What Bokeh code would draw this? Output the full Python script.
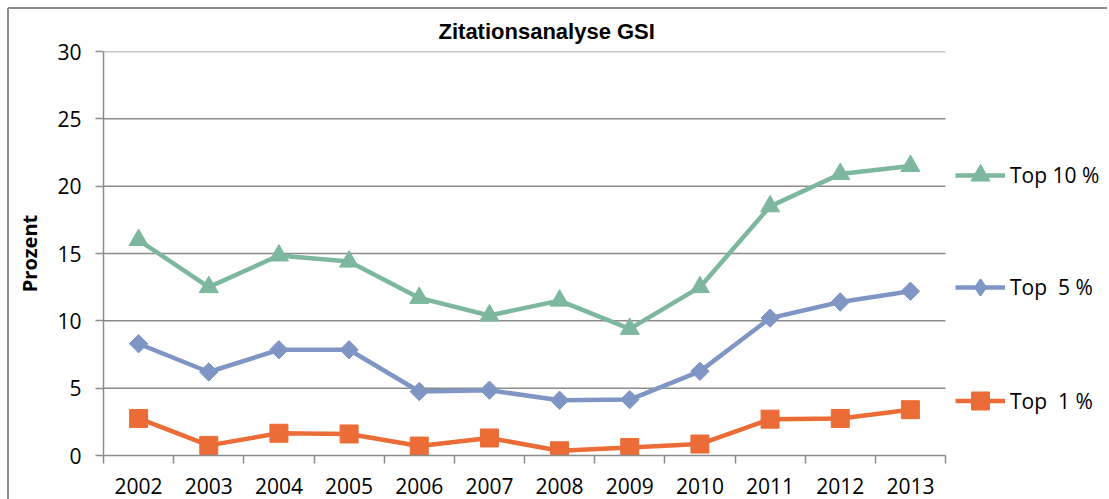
import numpy as np
from bokeh.plotting import figure
from bokeh.layouts import column
from bokeh.models import Range1d, FixedTicker, Legend, LegendItem
from bokeh.embed import file_html
from bokeh.resources import INLINE

years = ["2002", "2003", "2004", "2005", "2006", "2007", "2008", "2009", "2010", "2011", "2012", "2013"]
top10 = [16.0, 12.5, 14.85, 14.4, 11.7, 10.4, 11.5, 9.4, 12.5, 18.5, 20.9, 21.5]
top5 = [8.3, 6.2, 7.85, 7.85, 4.75, 4.85, 4.1, 4.15, 6.25, 10.2, 11.4, 12.2]
top1 = [2.75, 0.75, 1.65, 1.6, 0.7, 1.3, 0.35, 0.6, 0.85, 2.7, 2.75, 3.4]
names = ["Top 10 %", "Top  5 %", "Top  1 %"]
y_ticks = [0, 5, 10, 15, 20, 25, 30]

GREEN = "#7db89e"
BLUE = "#7f96c4"
ORANGE = "#eb6c36"
GRID = "#8c8c8c"
FONT = "Open Sans"

n = len(years)
xs = list(range(n))
PLOT_W = 842      # width of the category area
FRAME_W = 1002    # frame extends to the right to host the legend
x_end = -0.5 + n * FRAME_W / PLOT_W

p = figure(
    frame_width=FRAME_W, frame_height=404,
    min_border_left=103, min_border_right=2, min_border_top=51, min_border_bottom=44,
    x_range=Range1d(-0.5, x_end), y_range=Range1d(0, 30),
    output_backend="svg", toolbar_location=None,
    title="Zitationsanalyse GSI",
)
p.styles = {
    "background-color": "white",
    "background-image": "linear-gradient(#8c8c8c,#8c8c8c), linear-gradient(#8c8c8c,#8c8c8c)",
    "background-size": "1100px 2px, 2px 491px",
    "background-position": "8px 7px, 7px 8px",
    "background-repeat": "no-repeat",
}
p.outline_line_color = None
p.background_fill_alpha = 0
p.border_fill_alpha = 0

p.title.align = "left"
p.title.offset = 335
p.title.standoff = 16
p.title.text_font = "Liberation Sans"
p.title.text_font_style = "bold"
p.title.text_font_size = "22px"
p.title.text_color = "black"

# x axis
p.xaxis.bounds = (-0.5, n - 0.5)
p.xaxis.ticker = FixedTicker(ticks=xs, minor_ticks=[i - 0.5 for i in range(n + 1)])
p.xaxis.major_label_overrides = {i: y for i, y in enumerate(years)}
p.xaxis.major_tick_line_color = None
p.xaxis.minor_tick_line_color = GRID
p.xaxis.minor_tick_line_width = 1.5
p.xaxis.minor_tick_out = 8
p.xaxis.minor_tick_in = 0
p.xaxis.major_tick_out = 8
p.xaxis.major_label_standoff = 14
p.xaxis.axis_line_color = GRID
p.xaxis.axis_line_width = 1.5
p.xaxis.major_label_text_font = FONT
p.xaxis.major_label_text_font_size = "21px"
p.xaxis.major_label_text_color = "black"

# y axis
p.yaxis.ticker = FixedTicker(ticks=y_ticks)
p.yaxis.major_tick_line_color = GRID
p.yaxis.major_tick_line_width = 1.5
p.yaxis.major_tick_out = 8
p.yaxis.major_tick_in = 0
p.yaxis.minor_tick_line_color = None
p.yaxis.major_label_standoff = 14
p.yaxis.axis_line_color = GRID
p.yaxis.axis_line_width = 1.5
p.yaxis.major_label_text_font = FONT
p.yaxis.major_label_text_font_size = "21px"
p.yaxis.major_label_text_color = "black"
p.yaxis.axis_label = "Prozent"
p.yaxis.axis_label_text_font = FONT
p.yaxis.axis_label_text_font_style = "bold"
p.yaxis.axis_label_text_font_size = "20px"
p.yaxis.axis_label_text_color = "black"
p.yaxis.axis_label_standoff = 11

p.xgrid.grid_line_color = None
p.ygrid.grid_line_color = None
# horizontal gridlines limited to the category area
p.segment(x0=-0.5, x1=n - 0.5, y0=y_ticks[1:], y1=y_ticks[1:], line_color=GRID, line_width=1.5)

series = [
    (top10, GREEN, "triangle", 19, 0.0, None),
    (top5, BLUE, "square", 13, np.pi / 4, "diamond"),
    (top1, ORANGE, "square", 18, 0.0, None),
]
items = []
for (vals, col, mk, sz, ang, leg_mk), name in zip(series, names):
    lr = p.line(xs, vals, line_color=col, line_width=4.5)
    proxy = None
    if leg_mk:
        # small swatch marker hidden beneath the real markers; used for the legend
        proxy = p.scatter(xs, vals, marker=leg_mk, size=8, fill_color=col, line_color=col, line_width=2)
    sr = p.scatter(xs, vals, marker=mk, size=sz, angle=ang, fill_color=col, line_color=col)
    items.append(LegendItem(label=name, renderers=[lr, proxy or sr]))

# legends: one per series, placed right of the category area
leg_specs = [(48, 256), (40, 148), (45, 32)]
for item, (gh, ly) in zip(items, leg_specs):
    leg = Legend(items=[item],
                 location=(852, ly), glyph_width=50, glyph_height=gh,
                 label_standoff=5, padding=0, margin=0, spacing=0,
                 border_line_color=None, background_fill_alpha=0,
                 label_text_font=FONT, label_text_font_size="21px",
                 label_text_color="black", label_text_baseline="middle")
    p.add_layout(leg, "center")

page = column(p, width=1109, height=499, styles={"overflow": "hidden"})
open("out.html", "w").write(file_html(page, INLINE))
